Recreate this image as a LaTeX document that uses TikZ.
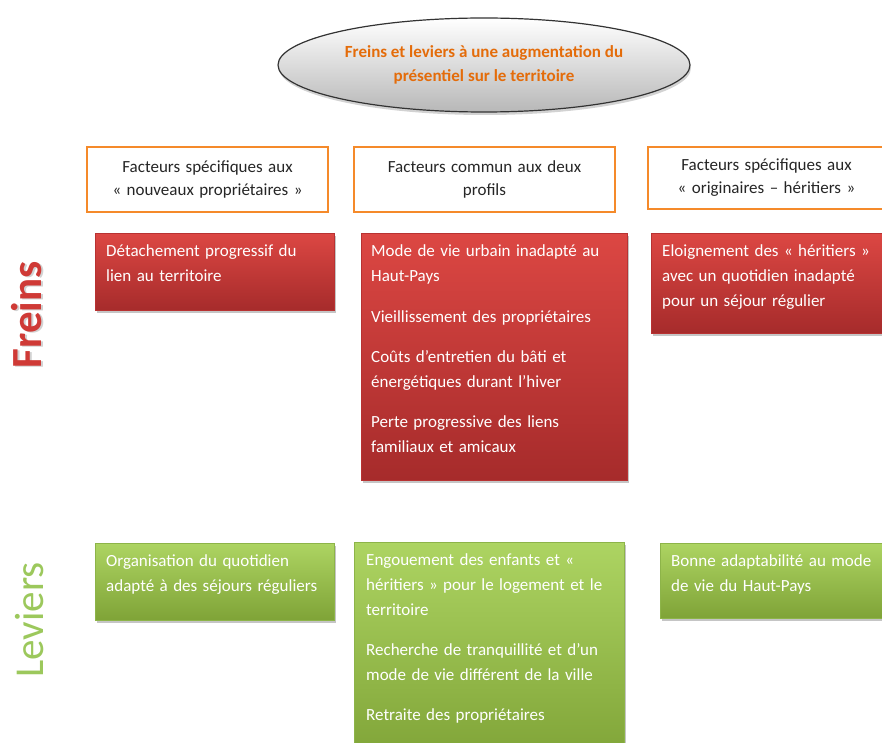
\documentclass[tikz,border=0pt]{standalone}
\usepackage{fontspec}
\setmainfont{Carlito}
\usetikzlibrary{shapes.geometric,shadows,calc}
\definecolor{hdrorange}{HTML}{F58A2A}
\definecolor{titleorange}{HTML}{E46C0A}
\definecolor{redtop}{HTML}{DC4743}
\definecolor{redbot}{HTML}{A62B2B}
\definecolor{redborder}{HTML}{B83232}
\definecolor{greentop}{HTML}{ADD462}
\definecolor{greenbot}{HTML}{7FA337}
\definecolor{greenborder}{HTML}{8DB449}
\definecolor{freinsred}{HTML}{CF3A36}
\definecolor{leviersgreen}{HTML}{9CC85C}
\definecolor{hdrtext}{HTML}{262626}
\newcommand\topstrut{\rule{0pt}{12pt}}
\newcommand\widesp{\spaceskip=0.32em plus 0.1em\relax}
\begin{document}
\begin{tikzpicture}[x=1pt,y=-1pt,
  hdr/.style={draw=hdrorange, line width=2pt, fill=white, anchor=north west,
    inner sep=0pt, align=center, text=hdrtext,
    font=\fontsize{17}{23}\selectfont\widesp},
  redbox/.style={draw=redborder, line width=0.8pt, top color=redtop, bottom color=redbot,
    anchor=north west, inner sep=0pt,
    drop shadow={opacity=0.45, shadow xshift=2pt, shadow yshift=-3pt}},
  greenbox/.style={draw=greenborder, line width=0.8pt, top color=greentop, bottom color=greenbot,
    anchor=north west, inner sep=0pt,
    drop shadow={opacity=0.45, shadow xshift=2pt, shadow yshift=-3pt}},
  btxt/.style={anchor=north west, inner sep=0pt, align=left, text=white,
    font=\fontsize{17}{25}\selectfont\widesp},
  ]
\useasboundingbox (0,0) rectangle (882,743);
\fill[white] (0,0) rectangle (882,743);

% title
\node[ellipse, draw=black!80, line width=1.2pt, top color=white, bottom color=black!28,
  minimum width=412pt, minimum height=94pt, inner sep=0pt,
  drop shadow={opacity=0.35, shadow xshift=1pt, shadow yshift=-3pt},
  align=center, text=titleorange, font=\bfseries\fontsize{17}{24}\selectfont]
  (title) at (484,65) {Freins et leviers à une augmentation du\\présentiel sur le territoire};

% headers
\node[hdr, minimum width=241pt, minimum height=65pt] (h1) at (86,146)
  {Facteurs spécifiques aux\\« nouveaux propriétaires »};
\node[hdr, minimum width=261pt, minimum height=65pt] (h2) at (353,146)
  {Facteurs commun aux deux\\profils};
\node[hdr, minimum width=237pt, minimum height=62pt] (h3) at (647,146)
  {Facteurs spécifiques aux\\« originaires – héritiers »};

% side labels
\node[rotate=90, text=black!35, opacity=0.5, font=\bfseries\fontsize{43}{43}\selectfont, inner sep=0pt]
  (freinsshadow) at (29,316) {Freins};
\node[rotate=90, text=freinsred, font=\bfseries\fontsize{43}{43}\selectfont, inner sep=0pt]
  (freins) at (27,315) {Freins};
\node[rotate=90, text=leviersgreen, font=\fontsize{41}{41}\selectfont, inner sep=0pt]
  (leviers) at (30,620) {Leviers};

% red boxes
\node[redbox, minimum width=239pt, minimum height=77pt] (r1) at (95,233) {};
\node[btxt] (r1t) at (106,244) {\topstrut Détachement progressif du\\lien au territoire};

\node[redbox, minimum width=266pt, minimum height=247pt] (r2) at (361,233) {};
\node[btxt] (r2t) at (371,244) {\topstrut Mode de vie urbain inadapté au\\Haut-Pays\\[16pt]
  Vieillissement des propriétaires\\[15pt]
  Coûts d’entretien du bâti et\\énergétiques durant l’hiver\\[15pt]
  Perte progressive des liens\\familiaux et amicaux};

\node[redbox, minimum width=240pt, minimum height=100pt] (r3) at (651,233) {};
\node[btxt] (r3t) at (662,244) {\topstrut Eloignement des « héritiers »\\avec un quotidien inadapté\\pour un séjour régulier};

% green boxes
\node[greenbox, minimum width=239pt, minimum height=77pt] (g1) at (95,543) {};
\node[btxt] (g1t) at (106,554) {\topstrut Organisation du quotidien\\adapté à des séjours réguliers};

\node[greenbox, minimum width=270pt, minimum height=220pt] (g2) at (354,542) {};
\node[btxt] (g2t) at (366,553) {\topstrut Engouement des enfants et «\\héritiers » pour le logement et le\\territoire\\[15pt]
  Recherche de tranquillité et d’un\\mode de vie différent de la ville\\[15pt]
  Retraite des propriétaires};

\node[greenbox, minimum width=232pt, minimum height=75pt] (g3) at (660,543) {};
\node[btxt] (g3t) at (671,554) {\topstrut Bonne adaptabilité au mode\\de vie du Haut-Pays};
\end{tikzpicture}
\end{document}
